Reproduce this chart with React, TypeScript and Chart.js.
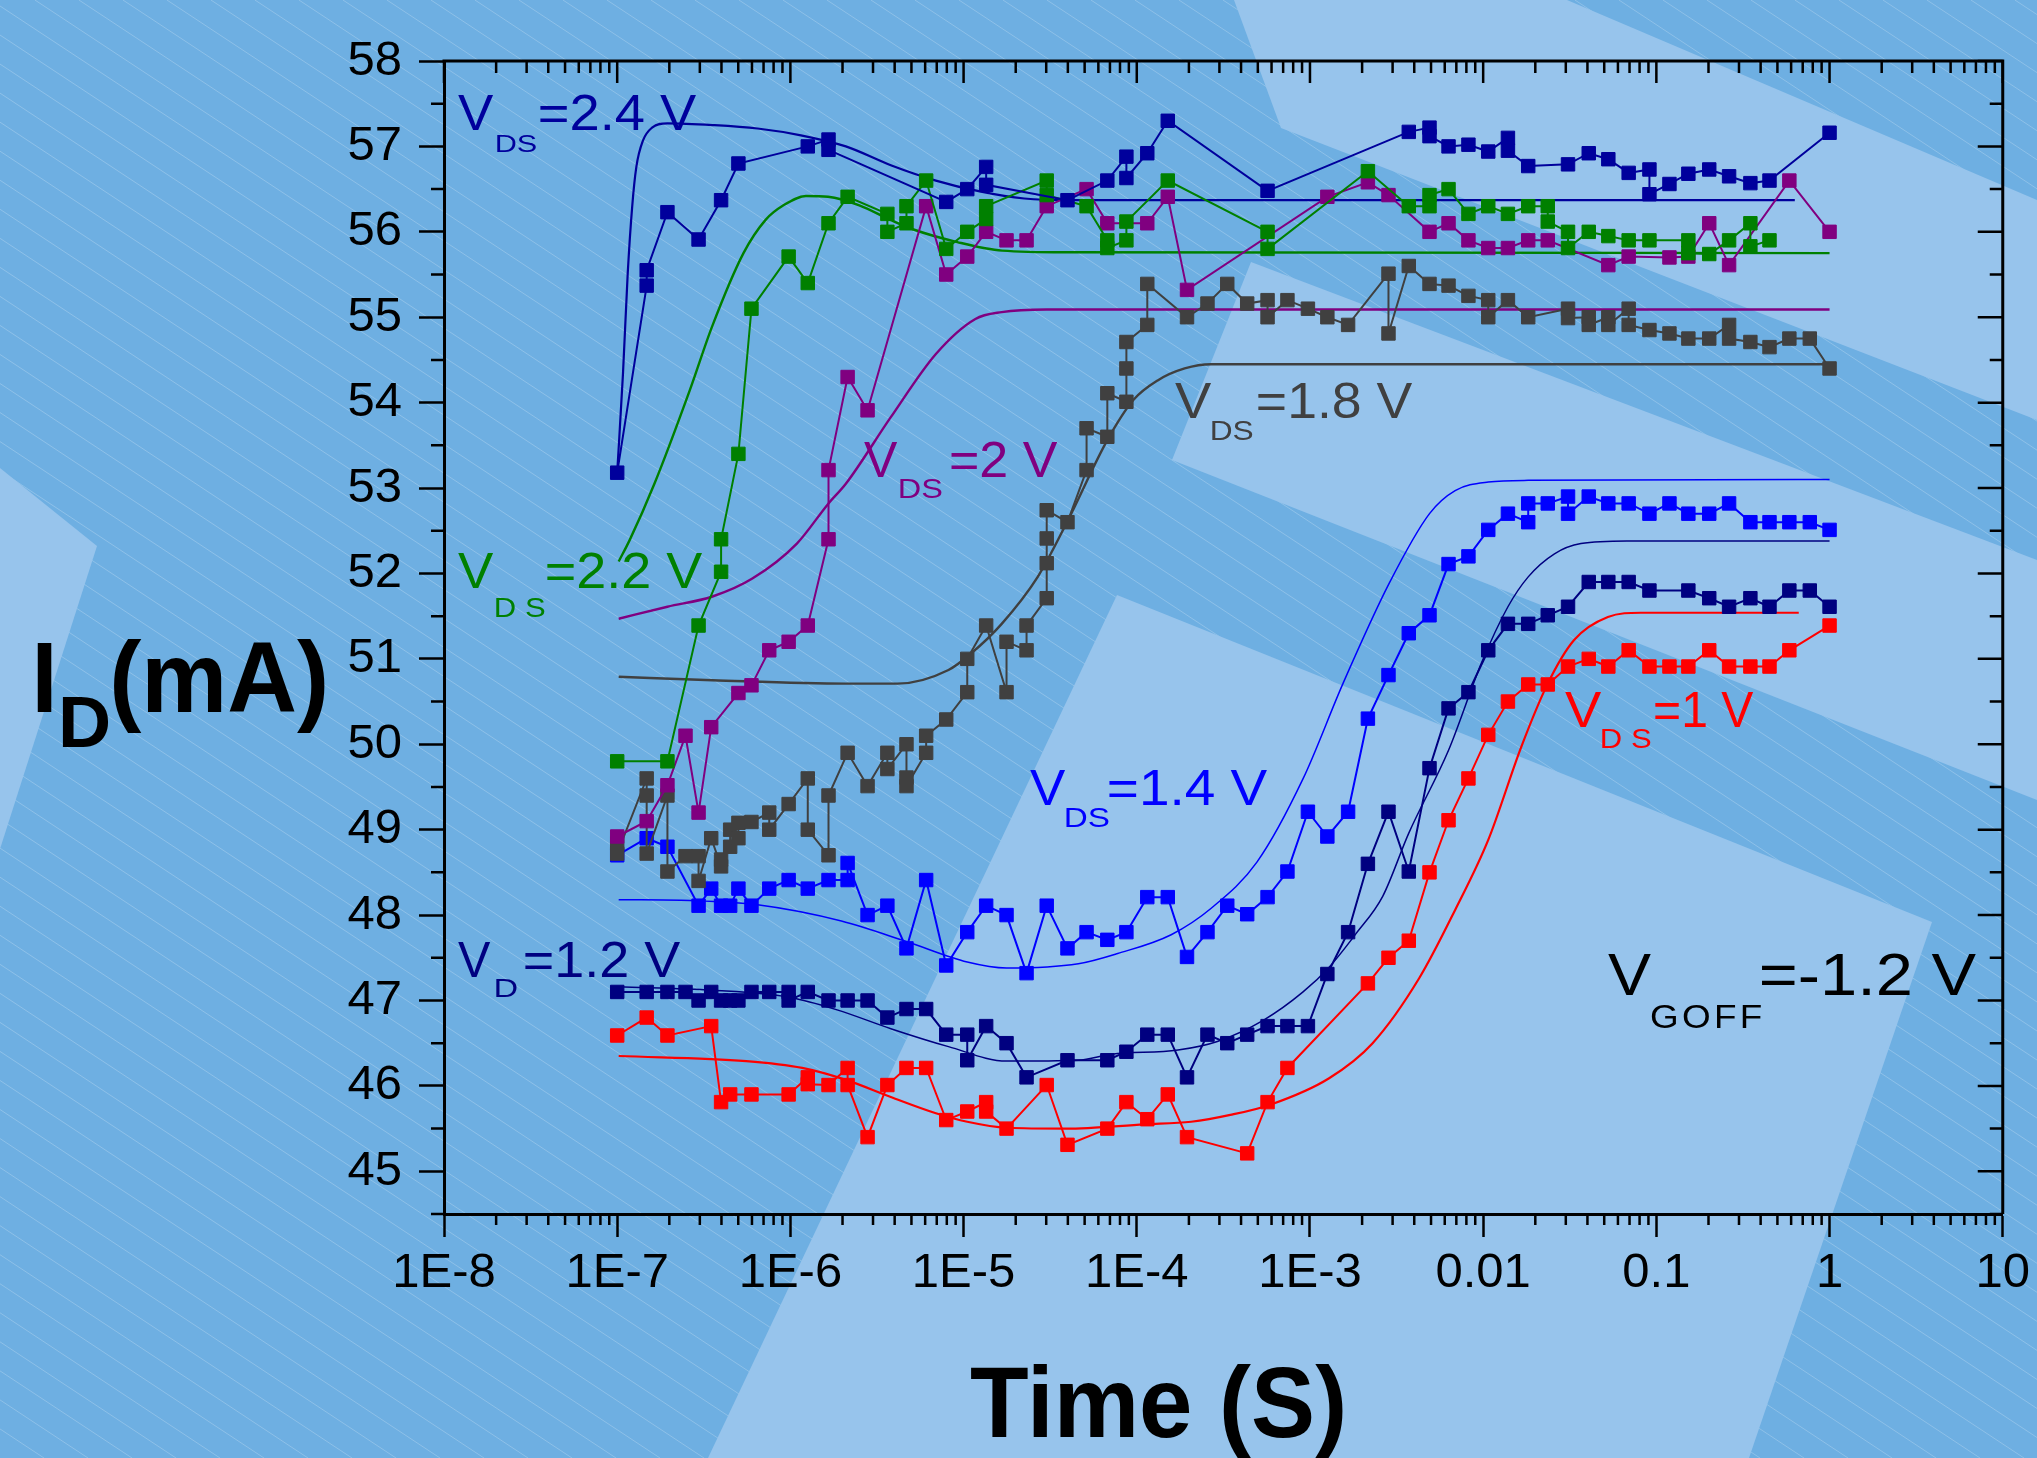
import React, { useEffect, useRef } from 'react';
import { Chart, registerables } from 'chart.js';

Chart.register(...registerables);

const FONT = "'Liberation Sans', Arial, Helvetica, sans-serif";

// ---------- axes ----------
const xTickValues = [1e-8, 1e-7, 1e-6, 1e-5, 1e-4, 1e-3, 1e-2, 1e-1, 1, 10];
const xTickLabels = ['1E-8', '1E-7', '1E-6', '1E-5', '1E-4', '1E-3', '0.01', '0.1', '1', '10'];
const yTickValues = [45, 46, 47, 48, 49, 50, 51, 52, 53, 54, 55, 56, 57, 58];

type P = [number, number];

// ---------- VDS = 2.4 V ----------
const m24: P[] = [
  [1e-7, 53.18], [1.48e-7, 55.37], [1.48e-7, 55.55], [1.95e-7, 56.23], [2.95e-7, 55.91], [3.98e-7, 56.37],
  [5.01e-7, 56.8], [1.26e-6, 57.0], [1.66e-6, 57.08], [1.66e-6, 56.96], [7.94e-6, 56.35], [1.05e-5, 56.5],
  [1.35e-5, 56.76], [1.35e-5, 56.55], [3.98e-5, 56.37], [6.76e-5, 56.6], [8.71e-5, 56.88], [8.71e-5, 56.63],
  [1.15e-4, 56.92], [1.51e-4, 57.3], [5.69e-4, 56.48], [3.72e-3, 57.17], [4.9e-3, 57.22], [4.9e-3, 57.12],
  [6.31e-3, 57.0], [8.22e-3, 57.02], [1.07e-2, 56.94], [1.39e-2, 57.1], [1.39e-2, 56.95], [1.82e-2, 56.77],
  [3.09e-2, 56.79], [4.07e-2, 56.92], [5.28e-2, 56.85], [6.92e-2, 56.69], [9.12e-2, 56.73], [9.12e-2, 56.44],
  [0.119, 56.56], [0.153, 56.68], [0.202, 56.73], [0.263, 56.65], [0.349, 56.57], [0.45, 56.6], [1.0, 57.16],
];
const s24: P[] = [
  [1e-7, 53.18], [1.08e-7, 54.34], [1.15e-7, 55.51], [1.22e-7, 56.29], [1.29e-7, 56.76], [1.41e-7, 57.07],
  [1.59e-7, 57.22], [1.95e-7, 57.27], [3.55e-7, 57.25], [6.46e-7, 57.21], [1.15e-6, 57.13], [2.09e-6, 57.0],
  [3.8e-6, 56.78], [6.92e-6, 56.6], [1.26e-5, 56.47], [2.24e-5, 56.39], [4.07e-5, 56.37], [1e-3, 56.37], [0.63, 56.37],
];

// ---------- VDS = 2.2 V ----------
const m22: P[] = [
  [1e-7, 49.8], [1.95e-7, 49.8], [2.95e-7, 51.39], [3.98e-7, 52.02], [3.98e-7, 52.4], [5.01e-7, 53.4],
  [5.96e-7, 55.1], [9.77e-7, 55.71], [1.26e-6, 55.4], [1.66e-6, 56.1], [2.14e-6, 56.41], [3.63e-6, 56.21],
  [3.63e-6, 56.0], [4.68e-6, 56.1], [4.68e-6, 56.3], [6.08e-6, 56.6], [7.94e-6, 55.8], [1.05e-5, 56.0],
  [1.35e-5, 56.15], [1.35e-5, 56.3], [3.02e-5, 56.6], [3.02e-5, 56.43], [5.13e-5, 56.3], [6.76e-5, 55.9],
  [6.76e-5, 55.81], [8.71e-5, 55.9], [8.71e-5, 56.12], [1.51e-4, 56.6], [5.69e-4, 56.0], [5.69e-4, 55.8],
  [2.16e-3, 56.71], [3.72e-3, 56.3], [4.9e-3, 56.3], [4.9e-3, 56.43], [6.31e-3, 56.5], [8.22e-3, 56.21],
  [1.07e-2, 56.3], [1.39e-2, 56.21], [1.82e-2, 56.3], [2.36e-2, 56.3], [2.36e-2, 56.12], [3.09e-2, 56.0],
  [3.09e-2, 55.81], [4.07e-2, 56.0], [5.28e-2, 55.95], [6.92e-2, 55.9], [9.12e-2, 55.9], [0.153, 55.9],
  [0.153, 55.75], [0.202, 55.74], [0.263, 55.9], [0.349, 56.1], [0.349, 55.83], [0.45, 55.9],
];
const s22: P[] = [
  [1.02e-7, 52.14], [1.18e-7, 52.39], [1.64e-7, 53.05], [2.63e-7, 54.15], [3.53e-7, 54.89], [5.36e-7, 55.75],
  [7.19e-7, 56.14], [9.12e-7, 56.31], [1.23e-6, 56.42], [1.65e-6, 56.41], [2.5e-6, 56.31], [3.78e-6, 56.14],
  [5.09e-6, 56.03], [9.2e-6, 55.88], [1.67e-5, 55.78], [4.06e-5, 55.76], [1, 55.75],
];

// ---------- VDS = 2 V ----------
const m20: P[] = [
  [1e-7, 48.92], [1.48e-7, 49.1], [1.95e-7, 49.52], [2.48e-7, 50.1], [2.95e-7, 49.2], [3.49e-7, 50.2],
  [5.01e-7, 50.6], [5.96e-7, 50.69], [7.55e-7, 51.1], [9.77e-7, 51.2], [1.26e-6, 51.39], [1.66e-6, 52.4],
  [1.66e-6, 53.21], [2.14e-6, 54.3], [2.79e-6, 53.91], [6.08e-6, 56.3], [7.94e-6, 55.5], [1.05e-5, 55.71],
  [1.35e-5, 56.0], [1.77e-5, 55.9], [2.31e-5, 55.9], [3.02e-5, 56.3], [5.13e-5, 56.5], [6.76e-5, 56.1],
  [1.15e-4, 56.1], [1.51e-4, 56.41], [1.95e-4, 55.32], [1.26e-3, 56.41], [2.16e-3, 56.58], [2.84e-3, 56.43],
  [4.9e-3, 56.0], [6.31e-3, 56.1], [8.22e-3, 55.9], [1.07e-2, 55.81], [1.39e-2, 55.81], [1.82e-2, 55.9],
  [2.36e-2, 55.9], [5.28e-2, 55.61], [6.92e-2, 55.71], [0.119, 55.7], [0.153, 55.71], [0.202, 56.1],
  [0.263, 55.61], [0.586, 56.6], [1.0, 56.0],
];
const s20: P[] = [
  [1.02e-7, 51.47], [1.95e-7, 51.61], [3.55e-7, 51.73], [6.03e-7, 51.94], [1.09e-6, 52.35], [1.66e-6, 52.82],
  [2.09e-6, 53.05], [3.8e-6, 53.83], [6.92e-6, 54.57], [1.17e-5, 54.98], [1.66e-5, 55.06], [3.02e-5, 55.09], [1, 55.09],
];

// ---------- VDS = 1.8 V ----------
const m18: P[] = [
  [1e-7, 48.84], [1e-7, 48.72], [1.48e-7, 49.6], [1.48e-7, 49.4], [1.48e-7, 48.72], [1.95e-7, 49.4],
  [1.95e-7, 48.51], [2.48e-7, 48.69], [2.95e-7, 48.69], [2.95e-7, 48.4], [3.49e-7, 48.9], [3.98e-7, 48.57],
  [3.98e-7, 48.65], [4.49e-7, 48.8], [4.49e-7, 49.0], [5.01e-7, 48.9], [5.01e-7, 49.08], [5.96e-7, 49.09],
  [7.55e-7, 49.2], [7.55e-7, 49.0], [9.77e-7, 49.3], [1.26e-6, 49.6], [1.26e-6, 49.0], [1.66e-6, 48.7],
  [1.66e-6, 49.4], [2.14e-6, 49.9], [2.79e-6, 49.51], [3.63e-6, 49.9], [3.63e-6, 49.71], [4.68e-6, 50.0],
  [4.68e-6, 49.61], [4.68e-6, 49.51], [6.08e-6, 49.9], [6.08e-6, 50.1], [7.94e-6, 50.29], [1.05e-5, 50.61],
  [1.05e-5, 51.0], [1.35e-5, 51.39], [1.77e-5, 50.61], [1.77e-5, 51.2], [2.31e-5, 51.1], [2.31e-5, 51.39],
  [3.02e-5, 51.71], [3.02e-5, 52.12], [3.02e-5, 52.41], [3.02e-5, 52.74], [3.98e-5, 52.6], [5.13e-5, 53.21],
  [5.13e-5, 53.7], [6.76e-5, 53.6], [6.76e-5, 54.11], [8.71e-5, 54.01], [8.71e-5, 54.4], [8.71e-5, 54.71],
  [1.15e-4, 54.91], [1.15e-4, 55.39], [1.95e-4, 55.0], [2.56e-4, 55.16], [3.33e-4, 55.39], [4.34e-4, 55.16],
  [5.69e-4, 55.2], [5.69e-4, 55.0], [7.41e-4, 55.2], [9.73e-4, 55.1], [1.26e-3, 55.0], [1.66e-3, 54.91],
  [2.84e-3, 55.51], [2.84e-3, 54.81], [3.72e-3, 55.6], [4.9e-3, 55.39], [6.31e-3, 55.37], [8.22e-3, 55.25],
  [1.07e-2, 55.2], [1.07e-2, 55.0], [1.39e-2, 55.2], [1.82e-2, 55.0], [3.09e-2, 55.1], [3.09e-2, 54.99],
  [4.07e-2, 55.0], [4.07e-2, 54.91], [5.28e-2, 55.0], [5.28e-2, 54.91], [6.92e-2, 55.1], [6.92e-2, 54.91],
  [9.12e-2, 54.85], [0.119, 54.81], [0.153, 54.75], [0.202, 54.75], [0.263, 54.91], [0.263, 54.75],
  [0.349, 54.71], [0.45, 54.65], [0.586, 54.75], [0.769, 54.75], [1.0, 54.4],
];
const s18: P[] = [
  [1.02e-7, 50.79], [3.55e-7, 50.75], [2.09e-6, 50.71], [4.14e-6, 50.71], [8.18e-6, 50.87], [1.1e-5, 51.06],
  [1.66e-5, 51.41], [2.68e-5, 51.96], [4.0e-5, 52.62], [6.76e-5, 53.56], [9.55e-5, 54.03], [1.32e-4, 54.26],
  [1.89e-4, 54.4], [2.69e-4, 54.45], [1, 54.45],
];

// ---------- VDS = 1.4 V ----------
const m14: P[] = [
  [1e-7, 48.7], [1.48e-7, 48.9], [1.95e-7, 48.8], [2.95e-7, 48.11], [3.49e-7, 48.31], [3.98e-7, 48.11],
  [4.49e-7, 48.11], [5.01e-7, 48.31], [5.96e-7, 48.11], [7.55e-7, 48.31], [9.77e-7, 48.41], [1.26e-6, 48.31],
  [1.66e-6, 48.41], [2.14e-6, 48.41], [2.14e-6, 48.61], [2.79e-6, 48.0], [3.63e-6, 48.11], [4.68e-6, 47.61],
  [6.08e-6, 48.41], [7.94e-6, 47.41], [1.05e-5, 47.8], [1.35e-5, 48.11], [1.77e-5, 48.0], [2.31e-5, 47.32],
  [3.02e-5, 48.11], [3.98e-5, 47.61], [5.13e-5, 47.8], [6.76e-5, 47.71], [8.71e-5, 47.8], [1.15e-4, 48.21],
  [1.51e-4, 48.21], [1.95e-4, 47.51], [2.56e-4, 47.8], [3.33e-4, 48.11], [4.34e-4, 48.01], [5.69e-4, 48.21],
  [7.41e-4, 48.51], [9.73e-4, 49.21], [1.26e-3, 48.92], [1.66e-3, 49.21], [2.16e-3, 50.3], [2.84e-3, 50.81],
  [3.72e-3, 51.3], [4.9e-3, 51.51], [6.31e-3, 52.11], [8.22e-3, 52.2], [1.07e-2, 52.51], [1.39e-2, 52.7],
  [1.82e-2, 52.6], [1.82e-2, 52.82], [2.36e-2, 52.82], [3.09e-2, 52.9], [3.09e-2, 52.7], [4.07e-2, 52.9],
  [5.28e-2, 52.82], [6.92e-2, 52.82], [9.12e-2, 52.7], [0.119, 52.82], [0.153, 52.7], [0.202, 52.7],
  [0.263, 52.82], [0.349, 52.6], [0.45, 52.6], [0.586, 52.6], [0.769, 52.6], [1.0, 52.51],
];
const s14: P[] = [
  [1.02e-7, 48.18], [2.63e-7, 48.17], [6.46e-7, 48.12], [1.97e-6, 47.93], [4.68e-6, 47.69], [1.05e-5, 47.45],
  [1.77e-5, 47.38], [4.6e-5, 47.43], [7.76e-5, 47.55], [1.58e-4, 47.77], [2.69e-4, 48.08], [4.94e-4, 48.62],
  [9.14e-4, 49.6], [1.55e-3, 50.71], [2.86e-3, 51.88], [4.9e-3, 52.7], [6.89e-3, 52.97], [1.07e-2, 53.07],
  [1.82e-2, 53.09], [1, 53.1],
];

// ---------- VD = 1.2 V ----------
const m12: P[] = [
  [1e-7, 47.1], [1.48e-7, 47.1], [1.95e-7, 47.1], [2.48e-7, 47.1], [2.95e-7, 47.0], [3.49e-7, 47.1],
  [3.98e-7, 47.0], [4.49e-7, 47.0], [5.01e-7, 47.0], [5.96e-7, 47.1], [7.55e-7, 47.1], [9.77e-7, 47.1],
  [9.77e-7, 47.0], [1.26e-6, 47.1], [1.66e-6, 47.0], [2.14e-6, 47.0], [2.79e-6, 47.0], [3.63e-6, 46.8],
  [4.68e-6, 46.9], [6.08e-6, 46.9], [7.94e-6, 46.6], [1.05e-5, 46.6], [1.05e-5, 46.3], [1.35e-5, 46.7],
  [1.77e-5, 46.5], [2.31e-5, 46.1], [3.98e-5, 46.3], [6.76e-5, 46.3], [8.71e-5, 46.4], [1.15e-4, 46.6],
  [1.51e-4, 46.6], [1.95e-4, 46.1], [2.56e-4, 46.6], [3.33e-4, 46.5], [4.34e-4, 46.6], [5.69e-4, 46.7],
  [7.41e-4, 46.7], [9.73e-4, 46.7], [1.26e-3, 47.31], [1.66e-3, 47.8], [2.16e-3, 48.6], [2.84e-3, 49.21],
  [3.72e-3, 48.51], [4.9e-3, 49.72], [6.31e-3, 50.42], [8.22e-3, 50.61], [1.07e-2, 51.1], [1.39e-2, 51.41],
  [1.82e-2, 51.41], [2.36e-2, 51.51], [3.09e-2, 51.61], [4.07e-2, 51.9], [5.28e-2, 51.9], [6.92e-2, 51.9],
  [9.12e-2, 51.8], [0.153, 51.8], [0.202, 51.71], [0.263, 51.61], [0.349, 51.71], [0.45, 51.61],
  [0.586, 51.8], [0.769, 51.8], [1.0, 51.61],
];
const s12: P[] = [
  [1.02e-7, 47.16], [3.55e-7, 47.12], [9.7e-7, 47.04], [1.86e-6, 46.89], [3.8e-6, 46.67], [8.18e-6, 46.46],
  [1.77e-5, 46.29], [4.6e-5, 46.3], [7.16e-5, 46.37], [1.73e-4, 46.42], [2.92e-4, 46.52], [5.4e-4, 46.77],
  [9.12e-4, 47.1], [1.29e-3, 47.39], [1.84e-3, 47.78], [2.63e-3, 48.22], [3.72e-3, 48.96], [6.31e-3, 49.93],
  [9.77e-3, 50.95], [1.39e-2, 51.61], [1.82e-2, 51.96], [2.58e-2, 52.23], [3.67e-2, 52.35], [6.76e-2, 52.38], [1, 52.38],
];

// ---------- VDS = 1 V ----------
const m10: P[] = [
  [1e-7, 46.59], [1.48e-7, 46.8], [1.95e-7, 46.59], [3.49e-7, 46.7], [3.98e-7, 45.81], [4.49e-7, 45.9],
  [5.96e-7, 45.9], [9.77e-7, 45.9], [1.26e-6, 46.1], [1.26e-6, 46.02], [1.66e-6, 46.01], [2.14e-6, 46.21],
  [2.14e-6, 46.01], [2.79e-6, 45.4], [3.63e-6, 46.01], [4.68e-6, 46.21], [6.08e-6, 46.21], [7.94e-6, 45.6],
  [1.05e-5, 45.7], [1.35e-5, 45.81], [1.35e-5, 45.7], [1.77e-5, 45.5], [3.02e-5, 46.01], [3.98e-5, 45.31],
  [6.76e-5, 45.5], [8.71e-5, 45.81], [1.15e-4, 45.61], [1.51e-4, 45.9], [1.95e-4, 45.4], [4.34e-4, 45.21],
  [5.69e-4, 45.81], [7.41e-4, 46.21], [2.16e-3, 47.2], [2.84e-3, 47.5], [3.72e-3, 47.7], [4.9e-3, 48.5],
  [6.31e-3, 49.11], [8.22e-3, 49.6], [1.07e-2, 50.11], [1.39e-2, 50.5], [1.82e-2, 50.7], [2.36e-2, 50.7],
  [3.09e-2, 50.91], [4.07e-2, 51.0], [5.28e-2, 50.91], [6.92e-2, 51.1], [9.12e-2, 50.91], [0.119, 50.91],
  [0.153, 50.91], [0.202, 51.1], [0.263, 50.91], [0.349, 50.91], [0.45, 50.91], [0.586, 51.1], [1.0, 51.39],
];
const s10: P[] = [
  [1.02e-7, 46.35], [5.56e-7, 46.29], [1.17e-6, 46.21], [2.09e-6, 46.07], [3.8e-6, 45.87], [6.92e-6, 45.68],
  [1.05e-5, 45.58], [1.77e-5, 45.51], [3.89e-5, 45.5], [1.11e-4, 45.55], [2.06e-4, 45.58], [3.47e-4, 45.66],
  [5.9e-4, 45.78], [1.29e-3, 46.09], [2.3e-3, 46.5], [4.27e-3, 47.26], [6.89e-3, 48.06], [1.07e-2, 48.88],
  [1.66e-2, 49.97], [2.36e-2, 50.71], [3.35e-2, 51.22], [5.25e-2, 51.49], [8.13e-2, 51.54], [0.664, 51.54],
];

// ---------- styles ----------
const C24 = '#00009c';
const C22 = '#008000';
const C20 = '#800080';
const C18 = '#404040';
const C14 = '#0000ff';
const C12 = '#000080';
const C10 = '#ff0000';

const SERIES = [
  { name: 'VDS=2.4 V', color: C24, meas: m24, sim: s24, simWidth: 2.2 },
  { name: 'VDS=2.2 V', color: C22, meas: m22, sim: s22, simWidth: 2.4 },
  { name: 'VDS=2 V', color: C20, meas: m20, sim: s20, simWidth: 2.4 },
  { name: 'VDS=1.8 V', color: C18, meas: m18, sim: s18, simWidth: 2.4 },
  { name: 'VDS=1.4 V', color: C14, meas: m14, sim: s14, simWidth: 1.5 },
  { name: 'VD=1.2 V', color: C12, meas: m12, sim: s12, simWidth: 1.5 },
  { name: 'VDS=1 V', color: C10, meas: m10, sim: s10, simWidth: 2.2 },
];

const BG_BASE = '#6eafe2';
const BG_LIGHT = '#97c4ec';
const LIGHT_SHAPES: number[][][] = [
  [[0, 468], [97, 546], [0, 849]],
  [[1234, 0], [1567, 0], [2037, 200], [2037, 420], [1281, 128]],
  [[1251, 262], [2037, 560], [2037, 800], [1172, 460]],
  [[1117, 595], [1932, 922], [1749, 1458], [708, 1458]],
];

// text pieces: [text, inkLeft, inkRight, baseline, size, letterSpacing]
type Piece = [string, number, number, number, number, number?];
const NOTES: { color: string; parts: Piece[] }[] = [
  { color: C24, parts: [['V', 458, 494, 130, 50], ['DS', 496, 536, 152, 24], ['=2.4 V', 540, 697, 130, 50]] },
  { color: C20, parts: [['V', 864, 898, 477, 50], ['DS', 900, 942, 498, 28], ['=2 V', 951, 1058, 477, 50]] },
  { color: C18, parts: [['V', 1175, 1212, 418, 50], ['DS', 1212, 1253, 440, 28], ['=1.8 V', 1258, 1413, 418, 50]] },
  { color: C22, parts: [['V', 458, 494, 588, 50], ['DS', 496, 545, 617, 28, 8], ['=2.2 V', 547, 703, 588, 50]] },
  { color: C14, parts: [['V', 1030, 1066, 805, 50], ['DS', 1066, 1109, 827, 28], ['=1.4 V', 1109, 1268, 805, 50]] },
  { color: C12, parts: [['V', 458, 491, 977, 50], ['D', 496, 517, 997, 26], ['=1.2 V', 525, 681, 977, 50]] },
  { color: C10, parts: [['V', 1565, 1602, 727, 50], ['DS', 1602, 1651, 748, 28, 8], ['=1 V', 1655, 1754, 727, 50]] },
  { color: '#000000', parts: [['V', 1608, 1651, 995, 60], ['GOFF', 1651, 1761, 1028, 33, 3], ['=-1.2 V', 1761, 1976, 995, 60]] },
];

function drawInk(ctx: CanvasRenderingContext2D, text: string, left: number, right: number, baseline: number,
  size: number, color: string, bold = false, spacing = 0) {
  ctx.save();
  ctx.font = `${bold ? 'bold ' : ''}${size}px ${FONT}`;
  (ctx as any).letterSpacing = `${spacing}px`;
  ctx.fillStyle = color;
  ctx.textAlign = 'left';
  ctx.textBaseline = 'alphabetic';
  const m = ctx.measureText(text);
  const lsb = -m.actualBoundingBoxLeft;
  const inkW = m.actualBoundingBoxLeft + m.actualBoundingBoxRight;
  const sx = inkW > 0 ? (right - left) / inkW : 1;
  ctx.translate(left, baseline);
  ctx.scale(sx, 1);
  ctx.fillText(text, -lsb, 0);
  ctx.restore();
}

const backgroundPlugin = {
  id: 'slideBackground',
  beforeDraw(chart: any) {
    const ctx: CanvasRenderingContext2D = chart.ctx;
    const W = chart.width, H = chart.height;
    ctx.save();
    ctx.fillStyle = BG_BASE;
    ctx.fillRect(0, 0, W, H);
    ctx.strokeStyle = 'rgba(255,255,255,0.22)';
    ctx.lineWidth = 1;
    const slope = 0.66;
    for (let x0 = -H / slope; x0 < W; x0 += 44) {
      ctx.beginPath();
      ctx.moveTo(x0, 0);
      ctx.lineTo(x0 + H / slope, H);
      ctx.stroke();
    }
    ctx.fillStyle = BG_LIGHT;
    for (const poly of LIGHT_SHAPES) {
      ctx.beginPath();
      poly.forEach(([x, y], i) => (i ? ctx.lineTo(x, y) : ctx.moveTo(x, y)));
      ctx.closePath();
      ctx.fill();
    }
    ctx.restore();
  },
};

const framePlugin = {
  id: 'frameAndNotes',
  afterDraw(chart: any) {
    const ctx: CanvasRenderingContext2D = chart.ctx;
    const { left, right, top, bottom } = chart.chartArea;
    const xs = chart.scales.x, ys = chart.scales.y;
    ctx.save();
    ctx.strokeStyle = '#000';
    ctx.lineWidth = 3;
    ctx.beginPath();
    ctx.moveTo(left - 1.5, top);
    ctx.lineTo(right + 1.5, top);
    ctx.moveTo(right, top);
    ctx.lineTo(right, bottom);
    ctx.stroke();
    ctx.lineWidth = 2.5;
    ctx.beginPath();
    for (let e = -8; e <= 1; e++) {
      const xp = xs.getPixelForValue(Math.pow(10, e));
      ctx.moveTo(xp, top);
      ctx.lineTo(xp, top + 22);
      if (e < 1) {
        for (let k = 2; k <= 9; k++) {
          const p = xs.getPixelForValue(k * Math.pow(10, e));
          ctx.moveTo(p, top);
          ctx.lineTo(p, top + 12);
          ctx.moveTo(p, bottom);
          ctx.lineTo(p, bottom + 11);
        }
      }
    }
    for (let v = 44.5; v <= 58.001; v += 0.5) {
      const yp = ys.getPixelForValue(v);
      const major = Math.abs(v - Math.round(v)) < 1e-6;
      if (!major) {
        ctx.moveTo(left, yp);
        ctx.lineTo(left - 13, yp);
      }
      ctx.moveTo(right, yp);
      ctx.lineTo(right - (major ? 25 : 13), yp);
    }
    ctx.stroke();
    ctx.restore();

    for (const n of NOTES) {
      for (const [t, l, r, b, s, sp] of n.parts) drawInk(ctx, t, l, r, b, s, n.color, false, sp || 0);
    }
    // axis titles
    drawInk(ctx, 'I', 37, 52, 712, 100, '#000', true);
    drawInk(ctx, 'D', 62, 108, 747, 72, '#000', true);
    drawInk(ctx, '(mA)', 113, 325, 712, 100, '#000', true);
    drawInk(ctx, 'Time (S)', 971, 1343, 1437, 100, '#000', true);
  },
};

export default function App() {
  const ref = useRef<HTMLCanvasElement>(null);

  useEffect(() => {
    if (!ref.current) return;
    Chart.defaults.font.family = FONT;
    const datasets: any[] = [];
    for (const s of SERIES) {
      datasets.push({
        label: s.name,
        data: s.meas.map(([x, y]) => ({ x, y })),
        showLine: true,
        tension: 0,
        borderColor: s.color,
        backgroundColor: s.color,
        borderWidth: 2,
        pointStyle: 'rect',
        pointRadius: 9.5,
        pointHoverRadius: 9.5,
        pointBorderWidth: 1,
        pointBorderColor: s.color,
        pointBackgroundColor: s.color,
        order: 1,
      });
      datasets.push({
        label: s.name + ' (sim)',
        data: s.sim.map(([x, y]) => ({ x, y })),
        showLine: true,
        borderColor: s.color,
        backgroundColor: s.color,
        borderWidth: s.simWidth,
        pointRadius: 0,
        pointHoverRadius: 0,
        cubicInterpolationMode: 'monotone',
        order: 2,
      });
    }

    const chart = new Chart(ref.current, {
      type: 'scatter',
      data: { datasets },
      options: {
        animation: false,
        responsive: false,
        devicePixelRatio: 1,
        events: [],
        layout: { padding: { top: 61, right: 32, left: 0, bottom: 0 } },
        plugins: { legend: { display: false }, tooltip: { enabled: false }, title: { display: false } },
        scales: {
          x: {
            type: 'logarithmic',
            position: 'bottom',
            min: 1e-8,
            max: 10,
            afterBuildTicks: (s: any) => { s.ticks = xTickValues.map((v) => ({ value: v })); },
            afterFit: (s: any) => { s.height = 244; },
            ticks: {
              autoSkip: false,
              maxRotation: 0,
              minRotation: 0,
              padding: 7,
              color: '#000',
              font: { size: 49, family: FONT },
              callback: (_v: any, i: number) => xTickLabels[i] ?? '',
            },
            grid: { display: true, drawOnChartArea: false, drawTicks: true, tickLength: 23, tickWidth: 2.5, tickColor: '#000', color: '#000' },
            border: { display: true, color: '#000', width: 3 },
          },
          y: {
            type: 'linear',
            position: 'left',
            min: 44.5,
            max: 58,
            afterBuildTicks: (s: any) => { s.ticks = yTickValues.map((v) => ({ value: v })); },
            afterFit: (s: any) => { s.width = 444; },
            ticks: {
              padding: 17,
              color: '#000',
              font: { size: 49, family: FONT },
              callback: (v: any) => String(v),
            },
            grid: { display: true, drawOnChartArea: false, drawTicks: true, tickLength: 25, tickWidth: 2.5, tickColor: '#000', color: '#000' },
            border: { display: true, color: '#000', width: 3 },
          },
        },
      } as any,
      plugins: [backgroundPlugin, framePlugin],
    });
    return () => chart.destroy();
  }, []);

  return (
    <div style={{ position: 'absolute', left: 0, top: 0, width: 2037, height: 1458 }}>
      <canvas ref={ref} width={2037} height={1458} style={{ display: 'block', width: 2037, height: 1458 }} />
    </div>
  );
}
